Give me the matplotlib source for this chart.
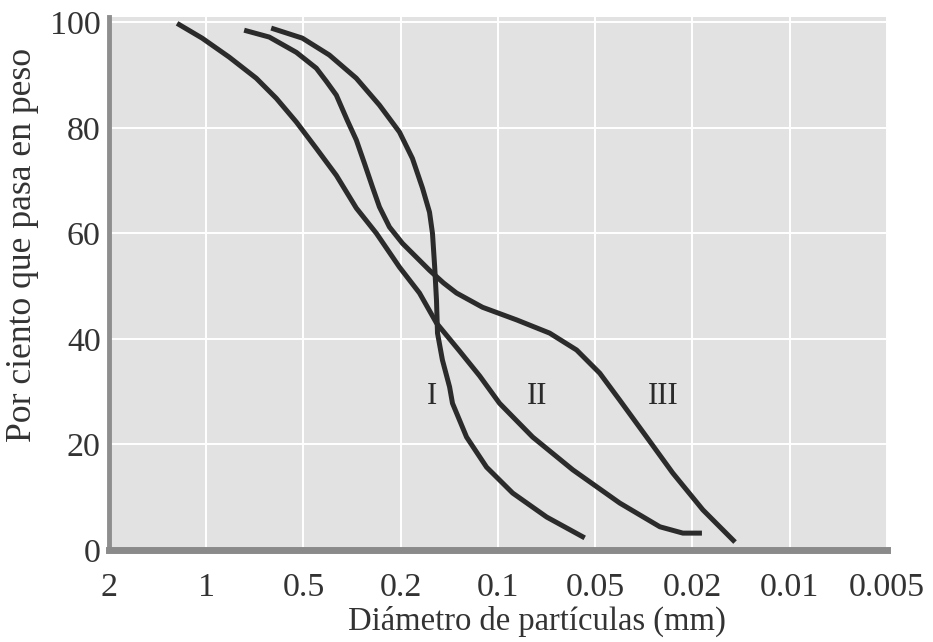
import numpy as np
import matplotlib
matplotlib.use("Agg")
import matplotlib.pyplot as plt
from matplotlib.scale import FuncScale
from matplotlib.ticker import NullLocator

# Axis tick values (mm), drawn evenly spaced as in the original figure
tick_values = [2, 1, 0.5, 0.2, 0.1, 0.05, 0.02, 0.01, 0.005]
tick_labels = ["2", "1", "0.5", "0.2", "0.1", "0.05", "0.02", "0.01", "0.005"]
y_ticks = [0, 20, 40, 60, 80, 100]

# Curve I
d_I = [0.6294, 0.5042, 0.392, 0.304, 0.2444, 0.2024, 0.184, 0.1713, 0.1629,
       0.1595, 0.157, 0.155, 0.1539, 0.1486, 0.1412, 0.1383, 0.1251, 0.1085,
       0.0901, 0.0707, 0.0539]
p_I = [98.9, 97.0, 93.8, 89.4, 84.3, 79.2, 74.2, 68.6, 64.0,
       60.0, 53.6, 47.3, 41.1, 36.0, 30.9, 27.8, 21.4, 15.7,
       10.8, 6.25, 2.3]

# Curve II
d_II = [1.231, 1.030, 0.849, 0.700, 0.607, 0.526, 0.443, 0.367, 0.304,
        0.2515, 0.2024, 0.175, 0.155, 0.1315, 0.114, 0.0989, 0.0781, 0.0587,
        0.0397, 0.0272, 0.0219, 0.0187]
p_II = [99.8, 97.0, 93.4, 89.4, 85.6, 81.1, 76.1, 71.0, 64.8,
        60.0, 53.6, 48.7, 43.0, 37.7, 33.0, 27.8, 21.4, 15.2,
        8.9, 4.4, 3.2, 3.2]

# Curve III
d_III = [0.7631, 0.638, 0.526, 0.443, 0.403, 0.367, 0.3308, 0.304, 0.2817,
         0.2611, 0.2444, 0.2224, 0.1975, 0.175, 0.1629, 0.1474, 0.1344,
         0.1117, 0.0875, 0.0692, 0.0571, 0.0479, 0.0397, 0.0308, 0.0241,
         0.01857, 0.01477]
p_III = [98.5, 97.2, 94.3, 91.3, 88.8, 86.2, 81.4, 77.7, 73.3,
         68.8, 65.0, 61.2, 58.1, 54.9, 53.0, 50.6, 48.7,
         46.0, 43.6, 41.1, 37.9, 33.5, 28.4, 21.4, 14.6,
         7.6, 1.5]

curve_names = ["I", "II", "III"]
label_d = [0.160, 0.0758, 0.0263]
label_p = [29, 29, 29]

_logt = np.log(np.array(tick_values[::-1], dtype=float))
_pos = np.arange(len(tick_values), dtype=float)


def fwd(d):
    d = np.asarray(d, dtype=float)
    with np.errstate(divide="ignore", invalid="ignore"):
        v = np.log(np.where(d > 0, d, np.nan))
    return np.interp(v, _logt, _pos)


def inv(p):
    p = np.asarray(p, dtype=float)
    return np.exp(np.interp(p, _pos, _logt))


plt.rcParams["font.family"] = ["Liberation Serif", "DejaVu Serif"]

fig = plt.figure(figsize=(9.33, 6.42), dpi=100)
ax = fig.add_axes([0.1168, 0.1433, 0.8339, 0.8302])
ax.set_xscale(FuncScale(ax, (fwd, inv)))
ax.set_xlim(2, 0.005)
ax.set_ylim(0, 101)
ax.set_facecolor("#e2e2e2")

ax.set_xticks(tick_values)
ax.set_xticklabels(tick_labels)
ax.xaxis.set_minor_locator(NullLocator())
ax.set_yticks(y_ticks)
ax.grid(True, color="white", linewidth=1.4)
ax.set_axisbelow(True)

for sp in ["top", "right"]:
    ax.spines[sp].set_visible(False)
ax.spines["left"].set_color("#8e8e8e")
ax.spines["left"].set_linewidth(3.5)
ax.spines["bottom"].set_color("#8a8a8a")
ax.spines["bottom"].set_linewidth(5)

ax.tick_params(axis="both", length=0, labelsize=24.5, colors="#333333")
ax.tick_params(axis="x", pad=16)
ax.tick_params(axis="y", pad=6)

lc = "#2b2b2b"
for d, p in [(d_I, p_I), (d_II, p_II), (d_III, p_III)]:
    ax.plot(d, p, color=lc, linewidth=3.6, solid_capstyle="butt",
            solid_joinstyle="round", zorder=3)

for name, xd, yp in zip(curve_names, label_d, label_p):
    ax.text(xd, yp, name, fontsize=22, color="#2b2b2b", ha="center", va="center")

ax.set_xlabel("Diámetro de partículas (mm)", fontsize=23.5, color="#333333")
ax.xaxis.set_label_coords(0.550, -0.105)
ax.set_ylabel("Por ciento que pasa en peso", fontsize=25.7, color="#333333")
ax.yaxis.set_label_coords(-0.090, 0.572)

fig.savefig("out.png", dpi=100)
